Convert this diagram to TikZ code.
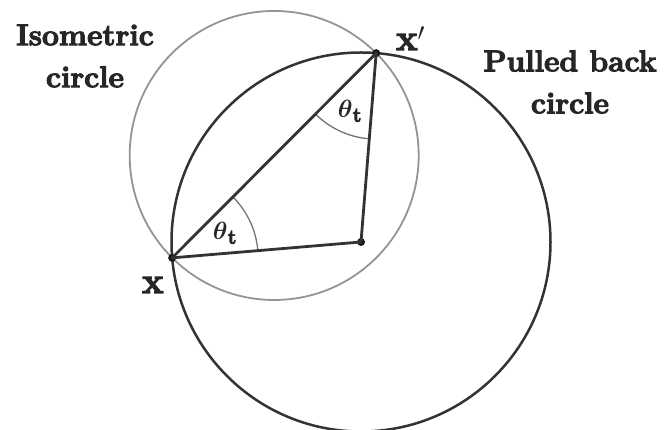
\documentclass[tikz,border=0pt]{standalone}
\usepackage{amsmath}
\usepackage{fontspec}
\newfontfamily\heavy[BoldFeatures={FakeBold=3.5}]{Latin Modern Roman}
\usetikzlibrary{calc}
\begin{document}
\begin{tikzpicture}[x=1pt,y=1pt,
  dot/.style={circle,fill=black!90,inner sep=0pt,minimum size=8pt},
  main/.style={line width=2.5pt,black!80},
  iso/.style={line width=1.8pt,black!42},
  ang/.style={line width=1.3pt,black!55},
  lbl/.style={font=\heavy\bfseries\fontsize{30}{42}\selectfont,align=center,inner sep=0pt,text=black!85},
  ptlbl/.style={font=\heavy\bfseries\fontsize{36}{40}\selectfont,inner sep=0pt,anchor=base west,text=black!85},
  th/.style={font=\fontsize{29}{30}\selectfont,inner sep=0pt,text=black!85}]
\useasboundingbox (0,0) rectangle (664,430);
\coordinate (c) at (361,188);
\coordinate (px) at ($(c)+(184.8:189.5pt)$);
\coordinate (pxp) at ($(c)+(85.4:189.5pt)$);
\coordinate (m) at ($(px)!0.5!(pxp)$);
% circles
\draw[iso] (m) circle (144.5pt);
\draw[main] (c) circle (189.5pt);
% angle arcs
\draw[ang] ($(px)+(4.8:86pt)$) arc[start angle=4.8, end angle=45.1, radius=86pt];
\draw[ang] ($(pxp)+(225.1:86pt)$) arc[start angle=225.1, end angle=265.4, radius=86pt];
% points
\node[dot] (C) at (c) {};
\node[dot] (x) at (px) {};
\node[dot] (xp) at (pxp) {};
% triangle
\draw[main,line width=2.8pt,line join=round] (x.center) -- (xp.center) -- (C.center) -- cycle;
% labels
\node[ptlbl] (lx) at (142,137) {x};
\node[ptlbl] (lxp) at (396,380) {x$'$};
\node[th] (t1) at (225,197) {$\boldsymbol{\theta}_{\textbf{\heavy t}}$};
\node[th] (t2) at (350,319) {$\boldsymbol{\theta}_{\textbf{\heavy t}}$};
\node[lbl] (iso) at (85,374) {Isometric\\circle};
\node[lbl] (pb) at (570,348) {Pulled back\\circle};
\end{tikzpicture}
\end{document}
